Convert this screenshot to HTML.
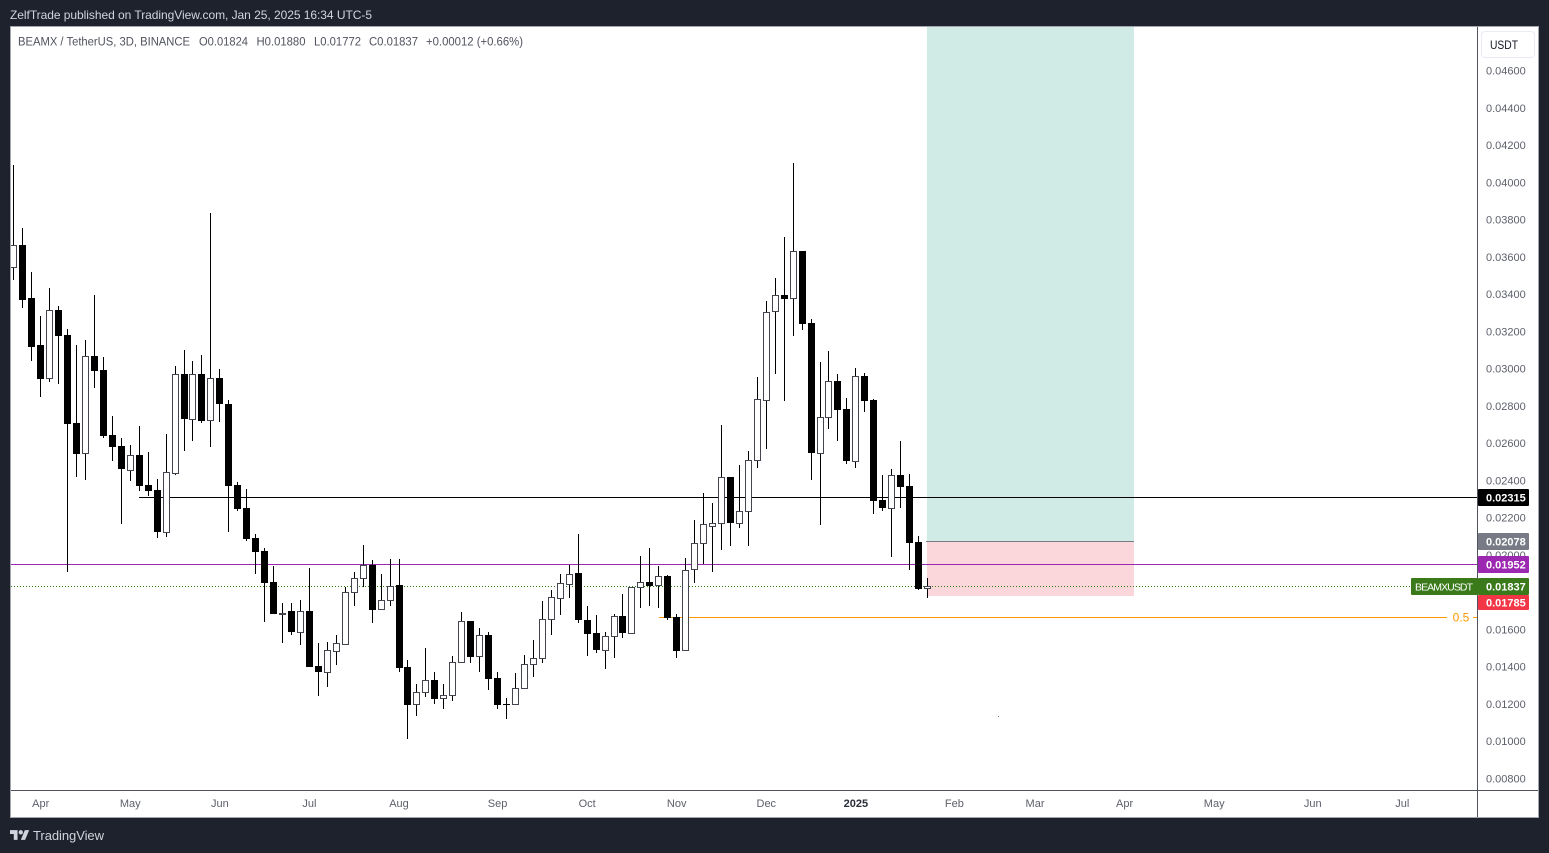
<!DOCTYPE html>
<html lang="en">
<head>
<meta charset="utf-8">
<title>BEAMX / TetherUS chart</title>
<style>
html,body{margin:0;padding:0;background:#1e222d;width:1549px;height:853px;overflow:hidden}
svg{display:block;font-family:"Liberation Sans",sans-serif}
</style>
</head>
<body>
<svg id="chart" xmlns="http://www.w3.org/2000/svg" width="1549" height="853" viewBox="0 0 1549 853" shape-rendering="crispEdges">
  <defs><clipPath id="plot-clip"><rect x="11" y="27" width="1466" height="763"/></clipPath></defs>
  <rect x="0" y="0" width="1549" height="853" fill="#1e222d"/>
  <text x="10" y="19" font-size="12" fill="#d1d4dc" textLength="362" lengthAdjust="spacing">ZelfTrade published on TradingView.com, Jan 25, 2025 16:34 UTC-5</text>
  <rect x="10.5" y="26.5" width="1528" height="791" fill="#ffffff" stroke="#a3a6af" stroke-width="1"/>
  <g id="plot" clip-path="url(#plot-clip)"></g>
  <rect x="1477" y="27" width="1" height="790" fill="#50535e"/>
  <rect x="11" y="790" width="1527" height="1" fill="#50535e"/>
  <g id="price-axis"></g>
  <g id="time-axis"></g>
  <g id="price-labels"></g>
  <g font-size="11.5" fill="#50535e">
    <text x="18" y="45.5" textLength="172" lengthAdjust="spacingAndGlyphs">BEAMX / TetherUS, 3D, BINANCE</text>
    <text x="199" y="45.5" textLength="49" lengthAdjust="spacingAndGlyphs">O0.01824</text>
    <text x="256.5" y="45.5" textLength="49" lengthAdjust="spacingAndGlyphs">H0.01880</text>
    <text x="314" y="45.5" textLength="47" lengthAdjust="spacingAndGlyphs">L0.01772</text>
    <text x="369" y="45.5" textLength="49" lengthAdjust="spacingAndGlyphs">C0.01837</text>
    <text x="426" y="45.5" textLength="97" lengthAdjust="spacingAndGlyphs">+0.00012 (+0.66%)</text>
  </g>
  <g>
    <rect x="1481.5" y="31.5" width="53" height="26" rx="4" fill="#ffffff" stroke="#e8ebf3"/>
    <text x="1490" y="49" font-size="11.5" fill="#131722" textLength="28" lengthAdjust="spacingAndGlyphs">USDT</text>
  </g>
  <g>
    <g transform="translate(10,828) scale(.54)" fill="#d1d4dc" shape-rendering="auto">
      <path d="M14 22H7V11H0V4h14v18zM28 22h-8l7.5-18h8L28 22z"/><circle cx="20" cy="8" r="4"/>
    </g>
    <text x="33" y="840" font-size="13" fill="#d1d4dc" textLength="71" lengthAdjust="spacing">TradingView</text>
  </g>
</svg>
<script>
const opens=[0.03546,0.03666,0.03382,0.03129,0.02954,0.03317,0.03183,0.02711,0.02548,0.03070,0.02995,0.02646,0.02587,0.02460,0.02539,0.02378,0.02351,0.02127,0.02444,0.02974,0.02731,0.02974,0.02725,0.02952,0.02813,0.02378,0.02255,0.02093,0.02024,0.01857,0.01687,0.01702,0.01591,0.01702,0.01406,0.01376,0.01489,0.01526,0.01802,0.01877,0.01949,0.01711,0.01759,0.01841,0.01401,0.01201,0.01265,0.01331,0.01233,0.01249,0.01426,0.01648,0.01458,0.01573,0.01342,0.01202,0.01201,0.01287,0.01415,0.01448,0.01657,0.01770,0.01845,0.01906,0.01653,0.01584,0.01494,0.01566,0.01675,0.01585,0.01829,0.01857,0.01840,0.01890,0.01669,0.01491,0.01925,0.02065,0.02160,0.02172,0.02421,0.02176,0.02237,0.02511,0.02833,0.03310,0.03398,0.03380,0.03634,0.03247,0.02551,0.02741,0.02936,0.02786,0.02508,0.02963,0.02834,0.02297,0.02256,0.02432,0.02373,0.02072,0.01824];
const highs=[0.04096,0.03757,0.03521,0.03285,0.03435,0.03339,0.03215,0.03129,0.03156,0.03398,0.03065,0.02748,0.02630,0.02593,0.02695,0.02555,0.02410,0.02652,0.03017,0.03103,0.03044,0.03076,0.03838,0.03001,0.02833,0.02394,0.02356,0.02115,0.02040,0.01943,0.01745,0.01745,0.01761,0.01932,0.01530,0.01535,0.01573,0.01830,0.01911,0.02056,0.01975,0.01900,0.01981,0.01981,0.01439,0.01310,0.01503,0.01374,0.01310,0.01460,0.01696,0.01648,0.01610,0.01589,0.01374,0.01235,0.01369,0.01466,0.01546,0.01755,0.01814,0.01900,0.01949,0.02115,0.01729,0.01680,0.01589,0.01686,0.01793,0.01832,0.01997,0.02040,0.01943,0.01895,0.01686,0.01986,0.02190,0.02335,0.02281,0.02700,0.02421,0.02485,0.02560,0.02958,0.03365,0.03489,0.03709,0.04106,0.03634,0.03269,0.03038,0.03097,0.02974,0.02845,0.03006,0.02979,0.02840,0.02432,0.02464,0.02614,0.02437,0.02104,0.01880];
const lows=[0.03478,0.03330,0.03045,0.02852,0.02932,0.02922,0.01913,0.02422,0.02405,0.02900,0.02632,0.02507,0.02169,0.02399,0.02347,0.02321,0.02095,0.02100,0.02433,0.02562,0.02616,0.02712,0.02584,0.02718,0.02127,0.02240,0.02079,0.01902,0.01644,0.01687,0.01532,0.01573,0.01521,0.01403,0.01247,0.01295,0.01413,0.01521,0.01729,0.01830,0.01639,0.01711,0.01729,0.01374,0.01016,0.01140,0.01242,0.01204,0.01177,0.01220,0.01426,0.01424,0.01376,0.01279,0.01177,0.01122,0.01201,0.01287,0.01349,0.01423,0.01573,0.01680,0.01771,0.01639,0.01462,0.01478,0.01392,0.01451,0.01558,0.01580,0.01719,0.01729,0.01718,0.01655,0.01451,0.01491,0.01854,0.01952,0.01913,0.02029,0.02052,0.02149,0.02052,0.02471,0.02573,0.02975,0.02830,0.03179,0.03212,0.02405,0.02163,0.02680,0.02616,0.02492,0.02471,0.02771,0.02224,0.02238,0.01993,0.02256,0.01923,0.01814,0.01772];
const closes=[0.03665,0.03372,0.03120,0.02948,0.03316,0.03179,0.02707,0.02546,0.03069,0.02991,0.02643,0.02584,0.02465,0.02537,0.02374,0.02347,0.02127,0.02446,0.02972,0.02734,0.02972,0.02723,0.02951,0.02814,0.02374,0.02251,0.02088,0.02020,0.01854,0.01687,0.01691,0.01591,0.01700,0.01403,0.01376,0.01491,0.01528,0.01802,0.01877,0.01947,0.01709,0.01759,0.01837,0.01397,0.01199,0.01265,0.01330,0.01231,0.01249,0.01426,0.01646,0.01456,0.01571,0.01338,0.01199,0.01199,0.01287,0.01415,0.01448,0.01657,0.01775,0.01850,0.01899,0.01655,0.01580,0.01494,0.01566,0.01673,0.01585,0.01829,0.01856,0.01836,0.01888,0.01666,0.01489,0.01920,0.02065,0.02167,0.02172,0.02419,0.02176,0.02237,0.02511,0.02838,0.03305,0.03396,0.03378,0.03632,0.03244,0.02551,0.02741,0.02935,0.02782,0.02508,0.02961,0.02830,0.02294,0.02256,0.02430,0.02369,0.02068,0.01820,0.01837];
const priceTicks=[0.046,0.044,0.042,0.040,0.038,0.036,0.034,0.032,0.030,0.028,0.026,0.024,0.022,0.020,0.018,0.016,0.014,0.012,0.010,0.008];
const monthLabels=["Apr","May","Jun","Jul","Aug","Sep","Oct","Nov","Dec","2025","Feb","Mar","Apr","May","Jun","Jul"];
const monthBars=[3,13,23,33,43,54,64,74,84,94,105,114,124,134,145,155];
const resistancePrice=0.02315;
const supportPrice=0.01952;
const lastPrice=0.01837;
const fibPrice=0.01669;
const fibStartBar=72;
const positionStartBar=102;
const positionEndBar=125.05;
const targetPrice=0.04836;
const entryPrice=0.02078;
const stopPrice=0.01785;

const NS='http://www.w3.org/2000/svg';
function xScale(i){return 13.82+8.958*i;}
function yScale(p){return 71+(0.046-p)*18631;}
function make(tag,attrs,parent){
  const el=document.createElementNS(NS,tag);
  for(const k in attrs){el.setAttribute(k,attrs[k]);}
  parent.appendChild(el);
  return el;
}
const plot=document.getElementById('plot');
const priceAxis=document.getElementById('price-axis');
const timeAxis=document.getElementById('time-axis');
const priceLabels=document.getElementById('price-labels');

const plotBg=make('rect',{x:11,y:27,width:1466,height:763,fill:'#ffffff'},plot);



const profileX=Math.floor(xScale(positionStartBar));
const profileW=Math.round(xScale(positionEndBar))-profileX;
const targetY=Math.round(yScale(targetPrice));
const entryY=Math.round(yScale(entryPrice));
const stopY=Math.round(yScale(stopPrice));
const profileBox=make('rect',{x:profileX,y:targetY,width:profileW,height:entryY-targetY,fill:'#d0ebe6'},plot);


const lossBox=make('rect',{x:profileX,y:entryY,width:profileW,height:stopY-entryY+1,fill:'#fbd6da'},plot);


const entryLine=make('rect',{x:profileX-1,y:entryY,width:profileW+1,height:1,fill:'#787b86'},plot);



const resLine=make('rect',{x:Math.round(xScale(14)),y:Math.round(yScale(resistancePrice)),width:1477-Math.round(xScale(14)),height:1,fill:'#000000'},plot);


const supLine=make('rect',{x:11,y:Math.round(yScale(supportPrice)),width:1466,height:1,fill:'#9c27b0'},plot);


const lastY=Math.round(yScale(lastPrice));
const lastLine=make('line',{x1:11,x2:1411,y1:lastY+0.5,y2:lastY+0.5,stroke:'#2e7d0f','stroke-width':1,'stroke-dasharray':'1 2'},plot);


const fibY=Math.round(yScale(fibPrice));
const fibLine=make('rect',{x:Math.round(xScale(fibStartBar)),y:fibY,width:1447-Math.round(xScale(fibStartBar)),height:1,fill:'#ff9800'},plot);


const fibTail=make('rect',{x:1473,y:fibY,width:4,height:1,fill:'#ff9800'},plot);


const fibText=make('text',{x:1461,y:fibY+4.5,'font-size':12,fill:'#ff9800','text-anchor':'middle'},plot);


fibText.textContent='0.5';
const speck=make('rect',{x:998,y:716,width:1,height:1,fill:'#787b86'},plot);



opens.forEach(function(o,i){
  const col=Math.floor(xScale(i));
  const c=closes[i];
  const up=c>=o;
  const g=make('g',{},plot);
  
  
  const hy=Math.round(yScale(highs[i]));
  const ly=Math.round(yScale(lows[i]));
  const wick=make('rect',{x:col,y:hy,width:1,height:Math.max(1,ly-hy),fill:'#000000'},g);
  
  
  const top=Math.round(yScale(Math.max(o,c)));
  const bot=Math.round(yScale(Math.min(o,c)));
  let body;
  if(up){
    body=make('rect',{x:col-2.5,y:top+0.5,width:6,height:Math.max(1,bot-top),fill:'#ffffff',stroke:'#434651','stroke-width':1},g);
  }else{
    body=make('rect',{x:col-3,y:top,width:7,height:Math.max(1,bot-top),fill:'#000000'},g);
  }
  
  
});

priceTicks.forEach(function(p){
  const t=make('text',{x:1486,y:yScale(p)+3.5,'font-size':11,fill:'#5d606b'},priceAxis);
  
  
  t.textContent=p.toFixed(5);
});

monthLabels.forEach(function(m,i){
  const t=make('text',{x:xScale(monthBars[i]),y:807,'font-size':11,fill:m==='2025'?'#2a2e39':'#5d606b','font-weight':m==='2025'?'bold':'normal','text-anchor':'middle'},timeAxis);
  
  
  t.textContent=m;
});

function addTag(price,text,color,boxOffset,height,textOffset){
  const y=Math.round(yScale(price));
  const r=make('rect',{x:1478,y:y+boxOffset,width:51,height:height,fill:color,rx:1.5},priceLabels);
  
  
  const t=make('text',{x:1486,y:y+textOffset,'font-size':11,'font-weight':'bold',fill:'#ffffff'},priceLabels);
  
  
  t.textContent=text;
}
addTag(resistancePrice,resistancePrice.toFixed(5),'#000000',-8,17,4.5);
addTag(entryPrice,entryPrice.toFixed(5),'#787b86',-8,17,4.5);
addTag(supportPrice,supportPrice.toFixed(5),'#9c27b0',-8,17,4.5);
addTag(lastPrice,lastPrice.toFixed(5),'#3a7a1b',-8,17,4.5);
addTag(stopPrice,stopPrice.toFixed(5),'#f23645',0,15,11.5);

const symBox=make('rect',{x:1411,y:lastY-8,width:67,height:17,fill:'#3a7a1b',rx:1.5},priceLabels);


const symText=make('text',{x:1415,y:lastY+4.5,'font-size':10.5,fill:'#ffffff',textLength:58,lengthAdjust:'spacing'},priceLabels);


symText.textContent='BEAMXUSDT';
</script>
</body>
</html>
